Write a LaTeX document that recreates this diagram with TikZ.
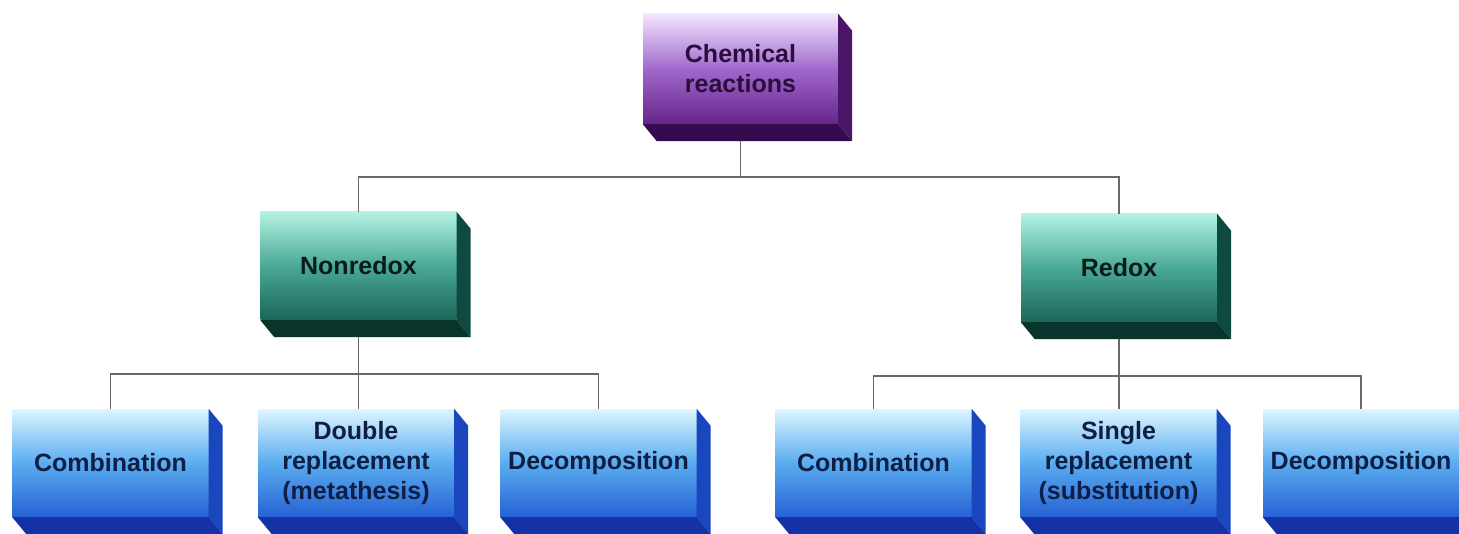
\documentclass[tikz,border=0pt]{standalone}
\usepackage{fontspec}
\setmainfont{Liberation Sans}
\usetikzlibrary{calc}

\definecolor{purpTop}{HTML}{F4E6FF}
\definecolor{purpMid}{HTML}{A068CC}
\definecolor{purpLow}{HTML}{662488}
\definecolor{purpSide}{HTML}{4C1668}
\definecolor{purpBase}{HTML}{360A4E}
\definecolor{purpInk}{HTML}{2A0E3E}
\definecolor{greenTop}{HTML}{B4F2E2}
\definecolor{greenMid}{HTML}{4AA896}
\definecolor{greenLow}{HTML}{1A6658}
\definecolor{greenSide}{HTML}{0E4A40}
\definecolor{greenBase}{HTML}{08342C}
\definecolor{greenInk}{HTML}{0A1C18}
\definecolor{blueTop}{HTML}{DDF6FF}
\definecolor{blueMid}{HTML}{5AACF0}
\definecolor{blueLow}{HTML}{2662D4}
\definecolor{blueSide}{HTML}{1A46BE}
\definecolor{blueBase}{HTML}{1432A6}
\definecolor{blueInk}{HTML}{0E1E44}
\definecolor{linkgray}{HTML}{6E6862}

\tikzset{
  face/.style={minimum width=196pt, minimum height=108pt, inner sep=0pt,
    align=center, font=\fontsize{25}{30}\selectfont\bfseries},
  purpface/.style={face, top color=purpTop, bottom color=purpLow, middle color=purpMid, text=purpInk},
  greenface/.style={face, top color=greenTop, bottom color=greenLow, middle color=greenMid, text=greenInk},
  blueface/.style={face, top color=blueTop, bottom color=blueLow, middle color=blueMid, text=blueInk},
  link/.style={draw=linkgray, line width=1.6pt},
}

\begin{document}
\begin{tikzpicture}[x=1pt,y=-1pt]
  \clip (0,0) rectangle (1459,534);
  \fill[white] (0,0) rectangle (1459,534);

  % Front faces
  \node[purpface, minimum width=195pt, minimum height=110pt] (chem) at (740.5,69) {Chemical\\reactions};
  \node[greenface] (nonredox) at (358.5,266) {Nonredox};
  \node[greenface] (redox) at (1119,268) {Redox};
  \node[blueface] (ncomb) at (110.5,463) {Combination};
  \node[blueface] (ndouble) at (356,463) {Double\\replacement\\(metathesis)};
  \node[blueface] (ndecomp) at (598.5,463) {Decomposition};
  \node[blueface] (rcomb) at (873.5,463) {Combination};
  \node[blueface] (rsingle) at (1118.5,463) {Single\\replacement\\(substitution)};
  \node[blueface] (rdecomp) at (1361,463) {Decomposition};

  % Depth: right side and bottom
  \foreach \nd/\side/\base in {chem/purpSide/purpBase, nonredox/greenSide/greenBase,
      redox/greenSide/greenBase, ncomb/blueSide/blueBase, ndouble/blueSide/blueBase,
      ndecomp/blueSide/blueBase, rcomb/blueSide/blueBase, rsingle/blueSide/blueBase,
      rdecomp/blueSide/blueBase} {
    \fill[\side] (\nd.north east) -- ++(14,17) -- ($(\nd.south east)+(14,17)$) -- (\nd.south east) -- cycle;
    \fill[\base] (\nd.south west) -- ++(14,17) -- ($(\nd.south east)+(14,17)$) -- (\nd.south east) -- cycle;
  }

  % Connectors
  \draw[link] ($(chem.south)+(0,17)$) -- ++(0,36) coordinate (jtop);
  \draw[link] (nonredox.north) |- (jtop) -| (redox.north);
  \draw[link] ($(nonredox.south)+(0,17)$) -- ++(0,37) coordinate (jnon);
  \draw[link] (ncomb.north) |- (jnon) -| (ndecomp.north);
  \draw[link] (jnon) -- (jnon |- ndouble.north);
  \draw[link] ($(redox.south)+(0,17)$) -- ++(0,37) coordinate (jred);
  \draw[link] (rcomb.north) |- (jred) -| (rdecomp.north);
  \draw[link] (jred) -- (jred |- rsingle.north);
\end{tikzpicture}
\end{document}
